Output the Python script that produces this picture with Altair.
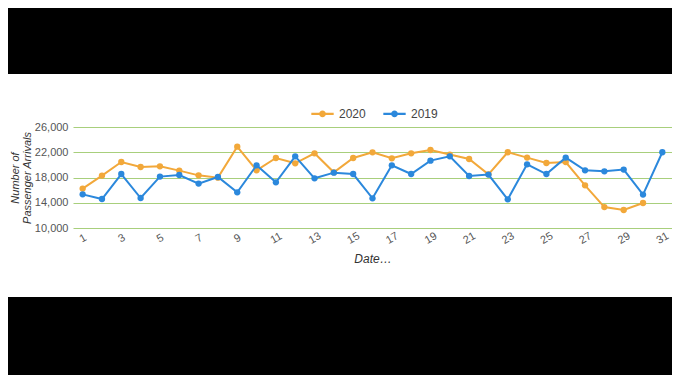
import altair as alt
import pandas as pd

days = list(range(1, 32))
arrivals_2020 = [16240, 18300, 20450, 19660, 19770, 19090, 18340, 17980, 22890, 19140,
                 21090, 20250, 21830, 18820, 21090, 21990, 21040, 21830, 22360, 21630,
                 20930, 18500, 22000, 21150, 20300, 20450, 16760, 13320, 12850, 13960, None]
arrivals_2019 = [15330, 14590, 18550, 14750, 18140, 18400, 17030, 18080, 15650, 19930,
                 17230, 21360, 17870, 18770, 18550, 14700, 19930, 18550, 20670, 21360,
                 18240, 18460, 14540, 20090, 18550, 21150, 19140, 18980, 19250, 15290, 22000]
series = ["2020", "2019"]
colors = ["#f2a83a", "#2b88dc"]
y_ticks = [10000, 14000, 18000, 22000, 26000]
x_ticks = list(range(1, 32, 2))

rows = []
for d, v in zip(days, arrivals_2020):
    rows.append({"day": d, "value": v, "year": "2020"})
for d, v in zip(days, arrivals_2019):
    rows.append({"day": d, "value": v, "year": "2019"})
df = pd.DataFrame(rows)

W, H = 599, 101
PAD = {"left": 65, "top": 119, "right": 0, "bottom": 147}

FONT = "Liberation Sans"

x_enc = alt.X("day:Q",
              scale=alt.Scale(domain=[0.5, 31.5], nice=False, zero=False),
              axis=alt.Axis(values=x_ticks, title="Date…", labelAngle=330,
                            labelAlign="center", labelBaseline="middle",
                            labelPadding=10, ticks=False, domain=False, grid=False,
                            labelFontSize=11, labelColor="#555", labelFont=FONT,
                            titleFont=FONT, titleFontSize=12, titleFontStyle="italic",
                            titleFontWeight="normal", titleColor="#333", titlePadding=8))
y_enc = alt.Y("value:Q",
              scale=alt.Scale(domain=[10000, 26000], nice=False, zero=False),
              axis=alt.Axis(values=y_ticks, format=",.0f", title=["Number of", "Passenger Arrivals"],
                            ticks=False, domain=False, grid=True, gridColor="#a8cf7c",
                            gridWidth=1, labelFontSize=11, labelColor="#555",
                            labelFont=FONT, labelPadding=5, titleFont=FONT,
                            titleFontSize=11, titleFontStyle="italic", titleLineHeight=12,
                            titleFontWeight="normal", titleColor="#333", titlePadding=2))
color_enc = alt.Color("year:N",
                      scale=alt.Scale(domain=series, range=colors),
                      legend=alt.Legend(title=None, orient="none", direction="horizontal",
                                        legendX=237, legendY=-26,
                                        symbolType="M-1,0L1,0M0.2,0A0.2,0.2,0,1,1,-0.2,0A0.2,0.2,0,1,1,0.2,0M0.1,0A0.1,0.1,0,1,1,-0.1,0A0.1,0.1,0,1,1,0.1,0",
                                        symbolSize=500, symbolStrokeWidth=2.2,
                                        labelFontSize=12, labelColor="#444", labelFont=FONT,
                                        labelOffset=4, columnPadding=12))

dummy = pd.DataFrame({"a": [0]})
top_bar = alt.Chart(dummy).mark_rect(color="black").encode(
    x=alt.value(-PAD["left"]), x2=alt.value(W + 10),
    y=alt.value(-PAD["top"]), y2=alt.value(-53))
bottom_bar = alt.Chart(dummy).mark_rect(color="black").encode(
    x=alt.value(-PAD["left"]), x2=alt.value(W + 10),
    y=alt.value(170), y2=alt.value(H + PAD["bottom"]))

layers = [top_bar, bottom_bar]
for s in series:
    base = alt.Chart(df).transform_filter(alt.datum.year == s)
    layers.append(base.mark_line(strokeWidth=2).encode(x=x_enc, y=y_enc, color=color_enc))
    layers.append(base.mark_point(filled=True, size=40, opacity=1).encode(
        x=x_enc, y=y_enc, color=color_enc))

chart = alt.layer(*layers).properties(
    width=W, height=H, padding=PAD,
    autosize=alt.AutoSizeParams(type="none"),
    background="white",
).configure_view(stroke=None)

chart.save("out.html", embed_options={"renderer": "svg", "actions": False})
